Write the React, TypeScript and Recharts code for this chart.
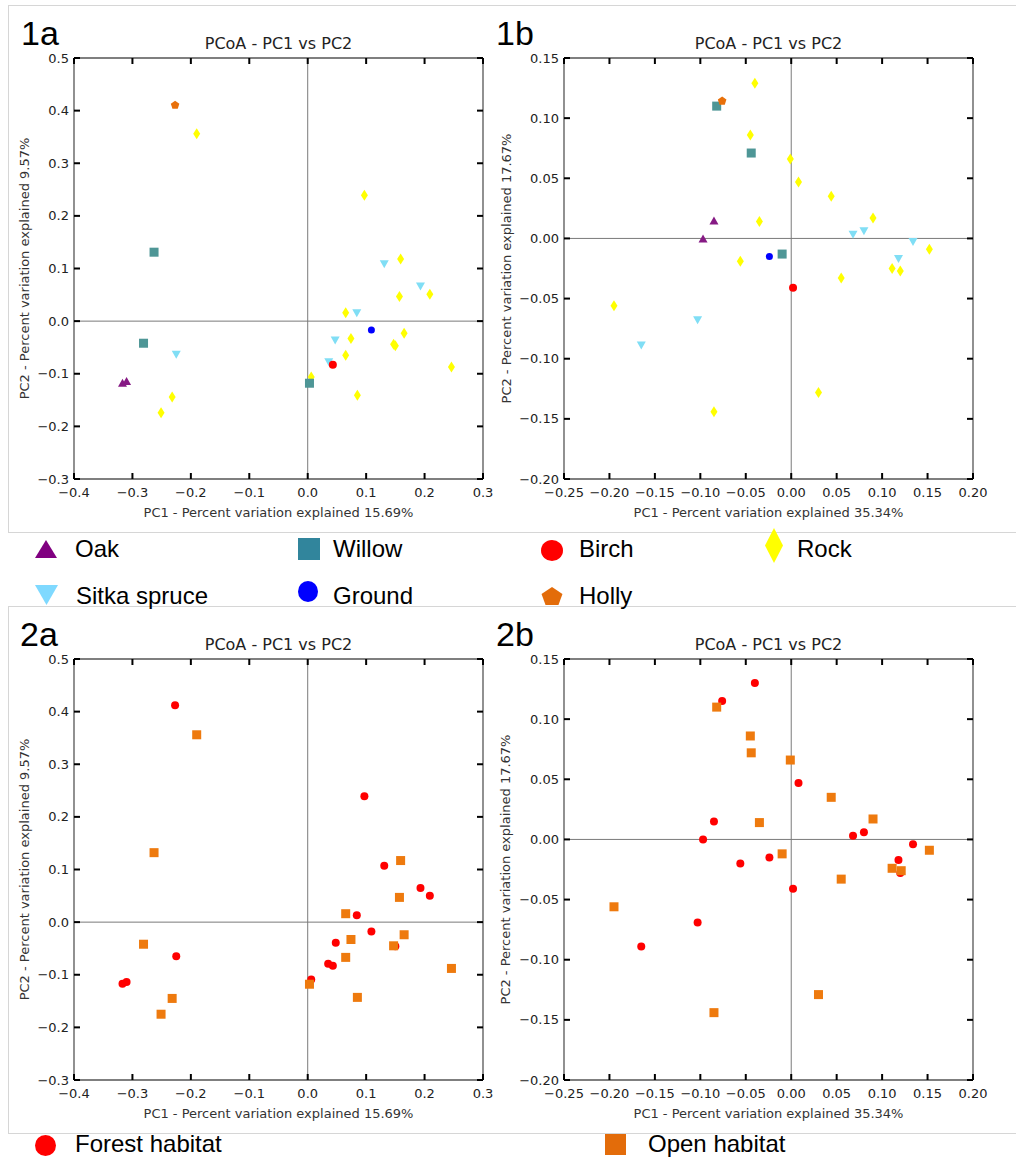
import React from "react";
import { ScatterChart, Scatter, XAxis, YAxis, ReferenceLine } from "recharts";

type Pt = { x: number; y: number };
type Kind = "tri" | "triDown" | "square" | "circle" | "diamond" | "pentagon";

// ---- 1a: PCoA by host (PC1 15.69%, PC2 9.57%)
const oak1a: Pt[] = [{ x: -0.317, y: -0.117 }, { x: -0.31, y: -0.114 }];
const willow1a: Pt[] = [{ x: -0.263, y: 0.131 }, { x: -0.281, y: -0.042 }, { x: 0.003, y: -0.118 }];
const birch1a: Pt[] = [{ x: 0.043, y: -0.083 }];
const rock1a: Pt[] = [
  { x: -0.19, y: 0.356 }, { x: -0.251, y: -0.174 }, { x: -0.232, y: -0.144 }, { x: 0.097, y: 0.239 },
  { x: 0.159, y: 0.118 }, { x: 0.209, y: 0.051 }, { x: 0.157, y: 0.047 }, { x: 0.065, y: 0.016 },
  { x: 0.074, y: -0.033 }, { x: 0.165, y: -0.023 }, { x: 0.147, y: -0.044 }, { x: 0.15, y: -0.047 },
  { x: 0.065, y: -0.065 }, { x: 0.006, y: -0.106 }, { x: 0.085, y: -0.141 }, { x: 0.246, y: -0.087 },
];
const sitka1a: Pt[] = [
  { x: -0.225, y: -0.064 }, { x: 0.131, y: 0.108 }, { x: 0.193, y: 0.066 },
  { x: 0.084, y: 0.015 }, { x: 0.047, y: -0.037 }, { x: 0.036, y: -0.078 },
];
const ground1a: Pt[] = [{ x: 0.109, y: -0.017 }];
const holly1a: Pt[] = [{ x: -0.227, y: 0.412 }];

// ---- 1b: PCoA by host (PC1 35.34%, PC2 17.67%)
const oak1b: Pt[] = [{ x: -0.085, y: 0.015 }, { x: -0.097, y: 0.0 }];
const willow1b: Pt[] = [{ x: -0.082, y: 0.11 }, { x: -0.044, y: 0.071 }, { x: -0.01, y: -0.013 }];
const birch1b: Pt[] = [{ x: 0.002, y: -0.041 }];
const rock1b: Pt[] = [
  { x: -0.04, y: 0.129 }, { x: -0.045, y: 0.086 }, { x: -0.001, y: 0.066 }, { x: 0.008, y: 0.047 },
  { x: 0.044, y: 0.035 }, { x: 0.09, y: 0.017 }, { x: -0.035, y: 0.014 }, { x: 0.152, y: -0.009 },
  { x: 0.111, y: -0.025 }, { x: 0.12, y: -0.027 }, { x: -0.056, y: -0.019 }, { x: 0.055, y: -0.033 },
  { x: -0.195, y: -0.056 }, { x: 0.03, y: -0.128 }, { x: -0.085, y: -0.144 },
];
const sitka1b: Pt[] = [
  { x: 0.068, y: 0.003 }, { x: 0.08, y: 0.006 }, { x: 0.134, y: -0.003 },
  { x: 0.118, y: -0.017 }, { x: -0.103, y: -0.068 }, { x: -0.165, y: -0.089 },
];
const ground1b: Pt[] = [{ x: -0.024, y: -0.015 }];
const holly1b: Pt[] = [{ x: -0.076, y: 0.115 }];

// ---- 2a: forest vs open habitat
const forest2a: Pt[] = [
  { x: -0.227, y: 0.412 }, { x: 0.097, y: 0.239 }, { x: 0.131, y: 0.107 }, { x: 0.193, y: 0.065 },
  { x: 0.209, y: 0.05 }, { x: 0.084, y: 0.013 }, { x: 0.109, y: -0.018 }, { x: 0.048, y: -0.039 },
  { x: 0.035, y: -0.079 }, { x: 0.043, y: -0.083 }, { x: 0.006, y: -0.109 }, { x: -0.225, y: -0.065 },
  { x: -0.317, y: -0.117 }, { x: -0.31, y: -0.114 }, { x: 0.15, y: -0.046 },
];
const open2a: Pt[] = [
  { x: -0.19, y: 0.356 }, { x: -0.263, y: 0.132 }, { x: -0.281, y: -0.042 }, { x: -0.232, y: -0.145 },
  { x: -0.251, y: -0.175 }, { x: 0.159, y: 0.117 }, { x: 0.157, y: 0.047 }, { x: 0.065, y: 0.016 },
  { x: 0.074, y: -0.033 }, { x: 0.165, y: -0.024 }, { x: 0.147, y: -0.045 }, { x: 0.065, y: -0.067 },
  { x: 0.003, y: -0.118 }, { x: 0.085, y: -0.143 }, { x: 0.246, y: -0.088 },
];

// ---- 2b: forest vs open habitat
const forest2b: Pt[] = [
  { x: -0.04, y: 0.13 }, { x: -0.076, y: 0.115 }, { x: 0.008, y: 0.047 }, { x: -0.085, y: 0.015 },
  { x: -0.097, y: 0.0 }, { x: 0.068, y: 0.003 }, { x: 0.08, y: 0.006 }, { x: 0.134, y: -0.004 },
  { x: 0.118, y: -0.017 }, { x: 0.12, y: -0.028 }, { x: -0.056, y: -0.02 }, { x: -0.024, y: -0.015 },
  { x: 0.002, y: -0.041 }, { x: -0.103, y: -0.069 }, { x: -0.165, y: -0.089 },
];
const open2b: Pt[] = [
  { x: -0.082, y: 0.11 }, { x: -0.045, y: 0.086 }, { x: -0.044, y: 0.072 }, { x: -0.001, y: 0.066 },
  { x: 0.044, y: 0.035 }, { x: 0.09, y: 0.017 }, { x: -0.035, y: 0.014 }, { x: -0.01, y: -0.012 },
  { x: 0.152, y: -0.009 }, { x: 0.111, y: -0.024 }, { x: 0.121, y: -0.026 }, { x: 0.055, y: -0.033 },
  { x: -0.195, y: -0.056 }, { x: 0.03, y: -0.129 }, { x: -0.085, y: -0.144 },
];

// ---- axes
const xTicksA = [-0.4, -0.3, -0.2, -0.1, 0, 0.1, 0.2, 0.3];
const yTicksA = [-0.3, -0.2, -0.1, 0, 0.1, 0.2, 0.3, 0.4, 0.5];
const xTicksB = [-0.25, -0.2, -0.15, -0.1, -0.05, 0, 0.05, 0.1, 0.15, 0.2];
const yTicksB = [-0.2, -0.15, -0.1, -0.05, 0, 0.05, 0.1, 0.15];

const TICK_FONT = "DejaVu Sans";
const LEG_FONT = "Liberation Sans, Arial, sans-serif";

// plot box inside each 532px-tall chart (matplotlib-like frame)
const PL = 74;
const PR = 483;
const PT = 58;
const PB = 479;
const TICK = 6;

function Glyph({ kind, cx, cy, w, h, fill }: { kind: Kind; cx: number; cy: number; w: number; h: number; fill: string }) {
  const hw = w / 2;
  const hh = h / 2;
  switch (kind) {
    case "circle":
      return <ellipse cx={cx} cy={cy} rx={hw} ry={hh} fill={fill} />;
    case "square":
      return <rect x={cx - hw} y={cy - hh} width={w} height={h} fill={fill} />;
    case "tri":
      return <polygon points={`${cx},${cy - hh} ${cx + hw},${cy + hh} ${cx - hw},${cy + hh}`} fill={fill} />;
    case "triDown":
      return <polygon points={`${cx - hw},${cy - hh} ${cx + hw},${cy - hh} ${cx},${cy + hh}`} fill={fill} />;
    case "diamond":
      return <polygon points={`${cx},${cy - hh} ${cx + hw},${cy} ${cx},${cy + hh} ${cx - hw},${cy}`} fill={fill} />;
    default: {
      const pts = [0, 1, 2, 3, 4]
        .map((i) => {
          const a = ((-90 + 72 * i) * Math.PI) / 180;
          return `${cx + hw * Math.cos(a)},${cy + 0.1 * h + hh * Math.sin(a)}`;
        })
        .join(" ");
      return <polygon points={pts} fill={fill} />;
    }
  }
}

type Series = { name: string; data: Pt[]; kind: Kind; fill: string; w: number; h: number };

const OAK = { kind: "tri" as Kind, fill: "#861a84", w: 9, h: 8 };
const WILLOW = { kind: "square" as Kind, fill: "#4e9696", w: 9, h: 9 };
const BIRCH = { kind: "circle" as Kind, fill: "#ff0000", w: 8, h: 8 };
const ROCK = { kind: "diamond" as Kind, fill: "#ffff00", w: 7, h: 11 };
const SITKA = { kind: "triDown" as Kind, fill: "#80def5", w: 9, h: 8 };
const GROUND = { kind: "circle" as Kind, fill: "#0000ff", w: 7, h: 7 };
const HOLLY = { kind: "pentagon" as Kind, fill: "#e8700a", w: 9, h: 9 };
const FOREST = { kind: "circle" as Kind, fill: "#ff0000", w: 8, h: 8 };
const OPEN = { kind: "square" as Kind, fill: "#ee7a0e", w: 9, h: 9 };

const host1a: Series[] = [
  { name: "Rock", data: rock1a, ...ROCK },
  { name: "Sitka spruce", data: sitka1a, ...SITKA },
  { name: "Birch", data: birch1a, ...BIRCH },
  { name: "Oak", data: oak1a, ...OAK },
  { name: "Willow", data: willow1a, ...WILLOW },
  { name: "Ground", data: ground1a, ...GROUND },
  { name: "Holly", data: holly1a, ...HOLLY },
];
const host1b: Series[] = [
  { name: "Rock", data: rock1b, ...ROCK },
  { name: "Sitka spruce", data: sitka1b, ...SITKA },
  { name: "Birch", data: birch1b, ...BIRCH },
  { name: "Oak", data: oak1b, ...OAK },
  { name: "Willow", data: willow1b, ...WILLOW },
  { name: "Ground", data: ground1b, ...GROUND },
  { name: "Holly", data: holly1b, ...HOLLY },
];
const habitat2a: Series[] = [
  { name: "Forest habitat", data: forest2a, ...FOREST },
  { name: "Open habitat", data: open2a, ...OPEN },
];
const habitat2b: Series[] = [
  { name: "Forest habitat", data: forest2b, ...FOREST },
  { name: "Open habitat", data: open2b, ...OPEN },
];

interface PanelProps {
  left: number;
  top: number;
  width: number;
  tag: string;
  tagX: number;
  yLabelX: number;
  xLabel: string;
  yLabel: string;
  xTicks: number[];
  yTicks: number[];
  digits: number;
  series: Series[];
}

function Panel({ left, top, width, tag, tagX, yLabelX, xLabel, yLabel, xTicks, yTicks, digits, series }: PanelProps) {
  const fmt = (v: number) => (v < 0 ? "\u2212" : "") + Math.abs(v).toFixed(digits);
  const xDom: [number, number] = [xTicks[0], xTicks[xTicks.length - 1]];
  const yDom: [number, number] = [yTicks[0], yTicks[yTicks.length - 1]];
  const axisLine = { stroke: "#555", strokeWidth: 1.3 };
  const midY = (PT + PB) / 2;

  // inward ticks on bottom + top, label below
  const xTick = (p: any) => (
    <g>
      <line x1={p.x} x2={p.x} y1={PB} y2={PB - TICK} stroke="#000" strokeWidth={2} />
      <line x1={p.x} x2={p.x} y1={PT} y2={PT + TICK} stroke="#000" strokeWidth={2} />
      <text x={p.x} y={497} textAnchor="middle" fontFamily={TICK_FONT} fontSize={13} fill="#222">
        {fmt(p.payload.value)}
      </text>
    </g>
  );
  // inward ticks on left + right, label at left
  const yTick = (p: any) => (
    <g>
      <line x1={PL} x2={PL + TICK} y1={p.y} y2={p.y} stroke="#000" strokeWidth={2} />
      <line x1={PR} x2={PR - TICK} y1={p.y} y2={p.y} stroke="#000" strokeWidth={2} />
      <text x={PL - 5} y={p.y + 4.6} textAnchor="end" fontFamily={TICK_FONT} fontSize={13} fill="#222">
        {fmt(p.payload.value)}
      </text>
    </g>
  );

  return (
    <div style={{ position: "absolute", left, top, width, height: 532 }}>
      <div
        style={{
          position: "absolute",
          left: tagX,
          top: 19,
          fontFamily: LEG_FONT,
          fontSize: 34,
          lineHeight: "28px",
          color: "#000",
        }}
      >
        {tag}
      </div>
      <div
        style={{
          position: "absolute",
          left: PL,
          width: PR - PL,
          top: 34,
          textAlign: "center",
          fontFamily: TICK_FONT,
          fontSize: 16,
          lineHeight: "20px",
          color: "#222",
        }}
      >
        PCoA - PC1 vs PC2
      </div>
      <ScatterChart width={width} height={532} margin={{ top: PT - 1, right: width - PR - 1, bottom: 532 - PB - 40, left: PL - 60 }}>
        <XAxis
          xAxisId="b"
          dataKey="x"
          type="number"
          domain={xDom}
          ticks={xTicks}
          interval={0}
          allowDataOverflow
          height={40}
          tickLine={false}
          tick={xTick}
          axisLine={axisLine}
          label={() => (
            <text x={(PL + PR) / 2} y={517} textAnchor="middle" fontFamily={TICK_FONT} fontSize={13} fill="#333">
              {xLabel}
            </text>
          )}
        />
        <XAxis
          xAxisId="t"
          orientation="top"
          dataKey="x"
          type="number"
          domain={xDom}
          allowDataOverflow
          height={1}
          tick={false}
          tickLine={false}
          axisLine={axisLine}
        />
        <YAxis
          yAxisId="l"
          dataKey="y"
          type="number"
          domain={yDom}
          ticks={yTicks}
          interval={0}
          allowDataOverflow
          width={60}
          tickLine={false}
          tick={yTick}
          axisLine={axisLine}
          label={() => (
            <text
              x={yLabelX}
              y={midY}
              transform={`rotate(-90 ${yLabelX} ${midY})`}
              textAnchor="middle"
              dominantBaseline="central"
              fontFamily={TICK_FONT}
              fontSize={13}
              fill="#333"
            >
              {yLabel}
            </text>
          )}
        />
        <YAxis
          yAxisId="r"
          orientation="right"
          dataKey="y"
          type="number"
          domain={yDom}
          allowDataOverflow
          width={1}
          tick={false}
          tickLine={false}
          axisLine={axisLine}
        />
        <ReferenceLine xAxisId="b" yAxisId="l" x={0} stroke="#7a7a7a" strokeWidth={1} />
        <ReferenceLine xAxisId="b" yAxisId="l" y={0} stroke="#7a7a7a" strokeWidth={1} />
        {series.map((s) => (
          <Scatter
            key={s.name}
            name={s.name}
            xAxisId="b"
            yAxisId="l"
            data={s.data}
            isAnimationActive={false}
            shape={(p: any) => <Glyph kind={s.kind} cx={p.cx} cy={p.cy} w={s.w} h={s.h} fill={s.fill} />}
          />
        ))}
      </ScatterChart>
    </div>
  );
}

function LegendItem({
  kind,
  fill,
  w,
  h,
  mx,
  my,
  tx,
  ty,
  label,
}: {
  kind: Kind;
  fill: string;
  w: number;
  h: number;
  mx: number;
  my: number;
  tx: number;
  ty: number;
  label: string;
}) {
  return (
    <>
      <svg
        width={w + 2}
        height={h + 2}
        style={{ position: "absolute", left: mx - w / 2 - 1, top: my - h / 2 - 1 }}
      >
        <Glyph kind={kind} cx={w / 2 + 1} cy={h / 2 + 1} w={w} h={h} fill={fill} />
      </svg>
      <div
        style={{
          position: "absolute",
          left: tx,
          top: ty - 15,
          lineHeight: "30px",
          fontFamily: LEG_FONT,
          fontSize: 24,
          color: "#000",
          whiteSpace: "nowrap",
        }}
      >
        {label}
      </div>
    </>
  );
}

export default function App() {
  const frame = {
    position: "absolute" as const,
    left: 8,
    width: 1020,
    borderTop: "1px solid #d6d6d6",
    borderLeft: "1px solid #d6d6d6",
    borderBottom: "1px solid #d6d6d6",
  };
  return (
    <div style={{ position: "absolute", left: 0, top: 0, width: 1016, height: 1160, background: "#fff", overflow: "hidden" }}>
      <div style={{ ...frame, top: 5, height: 526 }} />
      <div style={{ ...frame, top: 606, height: 526 }} />

      <Panel
        left={0}
        top={0}
        width={500}
        tag="1a"
        tagX={21}
        yLabelX={24}
        xLabel="PC1 - Percent variation explained 15.69%"
        yLabel="PC2 - Percent variation explained 9.57%"
        xTicks={xTicksA}
        yTicks={yTicksA}
        digits={1}
        series={host1a}
      />
      <Panel
        left={490}
        top={0}
        width={526}
        tag="1b"
        tagX={6}
        yLabelX={16}
        xLabel="PC1 - Percent variation explained 35.34%"
        yLabel="PC2 - Percent variation explained 17.67%"
        xTicks={xTicksB}
        yTicks={yTicksB}
        digits={2}
        series={host1b}
      />

      <LegendItem kind="tri" fill="#800080" w={22} h={18} mx={46} my={549} tx={75} ty={549} label="Oak" />
      <LegendItem kind="square" fill="#31859c" w={22} h={22} mx={309} my={549} tx={333} ty={549} label="Willow" />
      <LegendItem kind="circle" fill="#ff0000" w={22} h={21} mx={552} my={550} tx={579} ty={549} label="Birch" />
      <LegendItem kind="diamond" fill="#ffff00" w={18} h={35} mx={774} my={545} tx={797} ty={549} label="Rock" />
      <LegendItem kind="triDown" fill="#7fd9ff" w={23} h={20} mx={46} my={595} tx={76} ty={596} label="Sitka spruce" />
      <LegendItem kind="circle" fill="#0000ff" w={20} h={21} mx={308} my={591} tx={333} ty={596} label="Ground" />
      <LegendItem kind="pentagon" fill="#e36c0a" w={22} h={20} mx={552} my={595} tx={579} ty={596} label="Holly" />

      <Panel
        left={0}
        top={601}
        width={500}
        tag="2a"
        tagX={20}
        yLabelX={24}
        xLabel="PC1 - Percent variation explained 15.69%"
        yLabel="PC2 - Percent variation explained 9.57%"
        xTicks={xTicksA}
        yTicks={yTicksA}
        digits={1}
        series={habitat2a}
      />
      <Panel
        left={490}
        top={601}
        width={526}
        tag="2b"
        tagX={6}
        yLabelX={15}
        xLabel="PC1 - Percent variation explained 35.34%"
        yLabel="PC2 - Percent variation explained 17.67%"
        xTicks={xTicksB}
        yTicks={yTicksB}
        digits={2}
        series={habitat2b}
      />

      <LegendItem kind="circle" fill="#ff0000" w={21} h={21} mx={45} my={1145} tx={75} ty={1144} label="Forest habitat" />
      <LegendItem kind="square" fill="#e36c0a" w={21} h={21} mx={615} my={1144} tx={648} ty={1144} label="Open habitat" />
    </div>
  );
}
